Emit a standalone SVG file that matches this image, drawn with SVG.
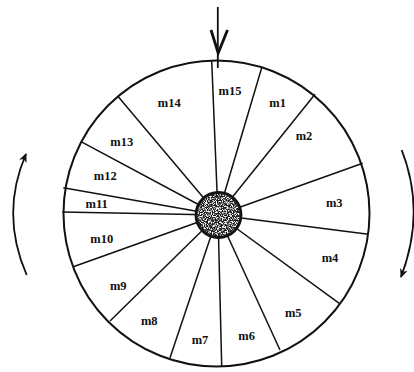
<svg xmlns="http://www.w3.org/2000/svg" width="414" height="372" viewBox="0 0 414 372">
<style>
.lbl{font-family:"Liberation Serif","Times New Roman",serif;font-weight:bold;font-size:12.5px;text-anchor:middle;fill:#111}
.sp{stroke:#111;stroke-width:1.5;fill:none}
.arr{stroke:#111;stroke-width:1.8;fill:none}
</style>
<defs>
<marker id="ah" markerWidth="10" markerHeight="10" refX="8" refY="4" orient="auto" markerUnits="userSpaceOnUse">
<path d="M0,0 L9,4 L0,8 L2.5,4 Z" fill="#111"/>
</marker>
<filter id="tex" x="0" y="0" width="1" height="1">
<feTurbulence type="fractalNoise" baseFrequency="0.8" numOctaves="2" seed="7" result="n"/>
<feColorMatrix in="n" type="matrix" values="0 0 0 0 1 0 0 0 0 1 0 0 0 0 1 5 0 0 0 -2.2" result="w"/>
<feComposite in="w" in2="SourceGraphic" operator="in"/>
</filter>
</defs>
<rect width="414" height="372" fill="#fff"/>
<g id="connectors">
<line class="sp" x1="211.7" y1="61" x2="218" y2="215"/>
<line class="sp" x1="261.7" y1="67.7" x2="218" y2="215"/>
<line class="sp" x1="315" y1="94.3" x2="218" y2="215"/>
<line class="sp" x1="362.7" y1="163.3" x2="218" y2="215"/>
<line class="sp" x1="368.3" y1="234.3" x2="218" y2="215"/>
<line class="sp" x1="339.3" y1="303.3" x2="218" y2="215"/>
<line class="sp" x1="280" y1="350" x2="218" y2="215"/>
<line class="sp" x1="221.7" y1="366" x2="218" y2="215"/>
<line class="sp" x1="170" y1="357.7" x2="218" y2="215"/>
<line class="sp" x1="110" y1="321" x2="218" y2="215"/>
<line class="sp" x1="73.3" y1="266.7" x2="218" y2="215"/>
<line class="sp" x1="62.3" y1="212" x2="218" y2="215"/>
<line class="sp" x1="63.3" y1="187.7" x2="218" y2="215"/>
<line class="sp" x1="81" y1="141.7" x2="218" y2="215"/>
<line class="sp" x1="118.3" y1="96.7" x2="218" y2="215"/>
<line class="arr" x1="217.8" y1="7" x2="217.8" y2="68"/>
<polyline points="211,30 218.2,53 227.5,30" fill="none" stroke="#111" stroke-width="2.8" stroke-linejoin="miter"/>
<path class="arr" d="M26.7,275 Q0,214 26,154" marker-end="url(#ah)"/>
<path class="arr" d="M401.7,150 Q426,212 401,277" marker-end="url(#ah)"/>
</g>
<g id="wheel">
<circle cx="216.5" cy="213.5" r="153" fill="none" stroke="#111" stroke-width="2"/>
</g>
<g id="hub">
<circle cx="218.5" cy="215" r="23" fill="#1a1a1a"/>
<circle cx="218.5" cy="215" r="21" fill="#000" filter="url(#tex)"/>
<circle cx="218.5" cy="215" r="23" fill="none" stroke="#111" stroke-width="1.8"/>
</g>
<g id="labels">
<text class="lbl" x="230" y="95">m15</text>
<text class="lbl" x="277.7" y="107">m1</text>
<text class="lbl" x="304" y="140">m2</text>
<text class="lbl" x="334.3" y="207">m3</text>
<text class="lbl" x="330" y="262">m4</text>
<text class="lbl" x="293.3" y="317">m5</text>
<text class="lbl" x="246.7" y="340">m6</text>
<text class="lbl" x="200" y="344">m7</text>
<text class="lbl" x="149.3" y="325">m8</text>
<text class="lbl" x="118.3" y="290">m9</text>
<text class="lbl" x="101.7" y="243">m10</text>
<text class="lbl" x="96.7" y="208">m11</text>
<text class="lbl" x="105.3" y="180">m12</text>
<text class="lbl" x="121.7" y="146">m13</text>
<text class="lbl" x="169.3" y="107">m14</text>
</g>
</svg>
